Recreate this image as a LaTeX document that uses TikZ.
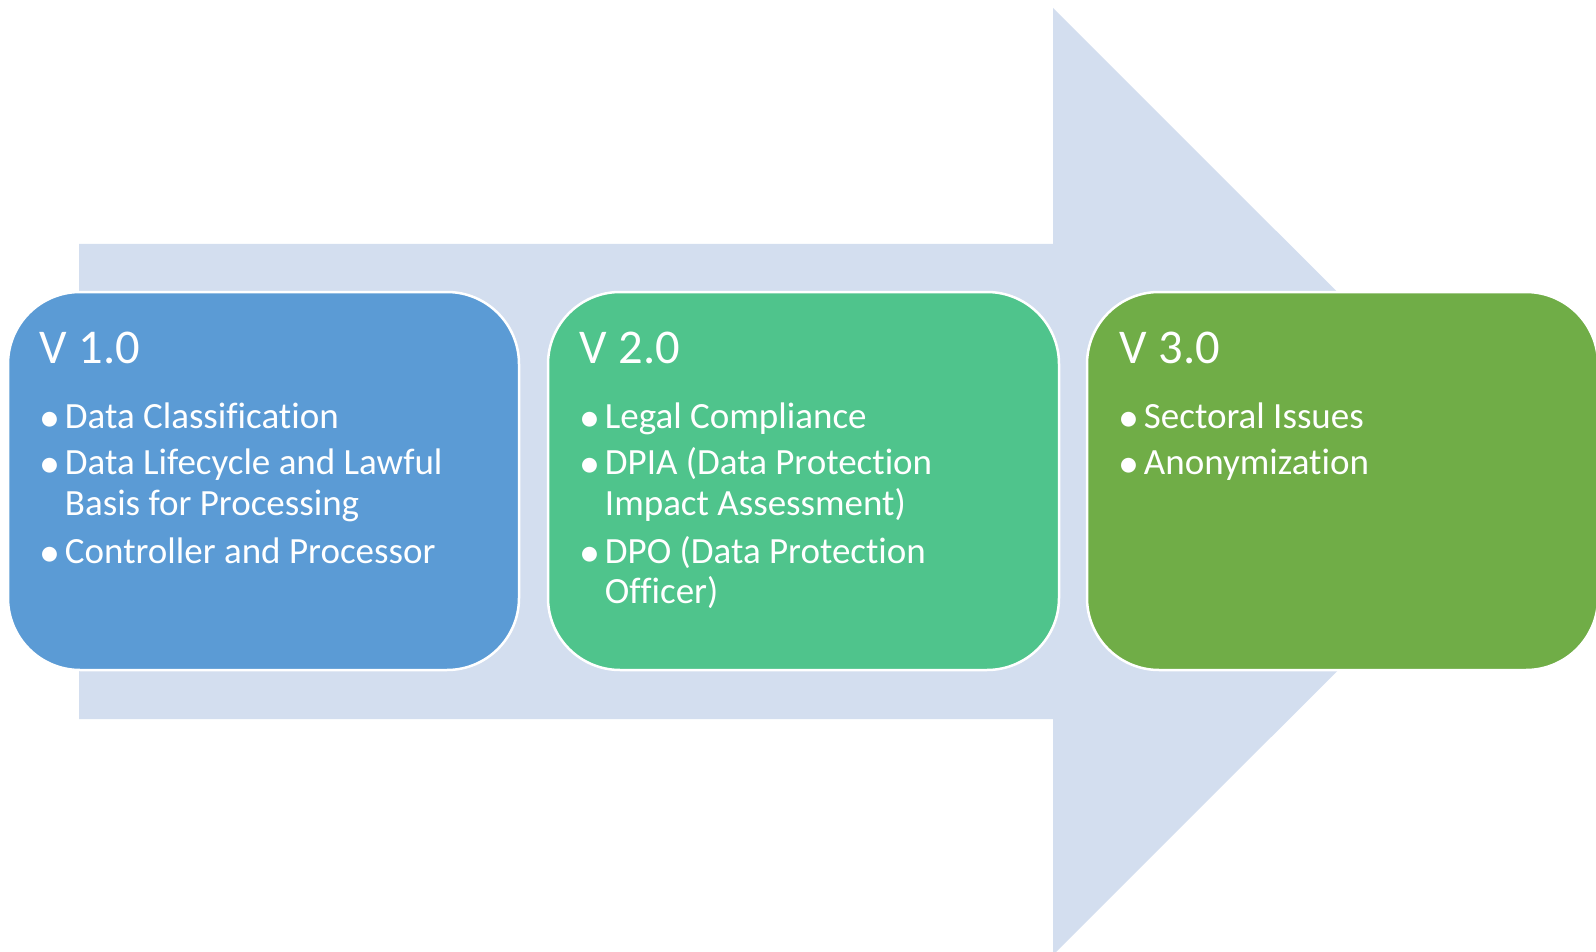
\documentclass[tikz,border=0pt]{standalone}
\usepackage{fontspec}
\setmainfont{Carlito}[RawFeature=-liga]
\usetikzlibrary{calc}
\definecolor{arrowc}{RGB}{211,222,239}
\definecolor{cone}{RGB}{91,155,213}
\definecolor{ctwo}{RGB}{79,196,140}
\definecolor{cthree}{RGB}{112,173,71}
\tikzset{
  vbox/.style={draw=white, line width=2.5pt, rounded corners=72pt, minimum width=511pt, minimum height=378pt, inner sep=0pt},
  vtitle/.style={anchor=base west, inner sep=0pt, text=white, font=\fontsize{48.5}{56}\selectfont},
  vline/.style={anchor=base west, inner sep=0pt, text=white, font=\fontsize{37}{41}\selectfont},
}
\newcommand{\bul}{\llap{{\fontsize{42}{42}\selectfont\raisebox{-3pt}{•}}\hspace{5pt}}}
\begin{document}
\begin{tikzpicture}[x=1pt,y=-1pt]
\useasboundingbox (0,0) rectangle (1596,952);
\clip (0,0) rectangle (1596,952);
% big arrow
\fill[arrowc] (79,244) -- (1053,244) -- (1053,8) -- (1527,481.5) -- (1053,955) -- (1053,719) -- (79,719) -- cycle;
% boxes
\node[vbox, fill=cone]   (b1) at (263.5,481) {};
\node[vbox, fill=ctwo]   (b2) at (803.5,481) {};
\node[vbox, fill=cthree] (b3) at (1342.5,481) {};
% box 1
\node[vtitle] (t1) at ($(b1.north west)+(33,73)$) {V 1.0};
\node[vline] (l1a) at ($(b1.north west)+(58,138)$) {\bul Data Classification};
\node[vline] (l1b) at ($(b1.north west)+(58,184)$) {\bul Data Lifecycle and Lawful};
\node[vline] (l1c) at ($(b1.north west)+(58,225)$) {Basis for Processing};
\node[vline] (l1d) at ($(b1.north west)+(58,273)$) {\bul Controller and Processor};
% box 2
\node[vtitle] (t2) at ($(b2.north west)+(33,73)$) {V 2.0};
\node[vline] (l2a) at ($(b2.north west)+(58,138)$) {\bul Legal Compliance};
\node[vline] (l2b) at ($(b2.north west)+(58,184)$) {\bul DPIA (Data Protection};
\node[vline] (l2c) at ($(b2.north west)+(58,225)$) {Impact Assessment)};
\node[vline] (l2d) at ($(b2.north west)+(58,273)$) {\bul DPO (Data Protection};
\node[vline] (l2e) at ($(b2.north west)+(58,313)$) {Officer)};
% box 3
\node[vtitle] (t3) at ($(b3.north west)+(34,73)$) {V 3.0};
\node[vline] (l3a) at ($(b3.north west)+(58,138)$) {\bul Sectoral Issues};
\node[vline] (l3b) at ($(b3.north west)+(58,184)$) {\bul Anonymization};
\end{tikzpicture}
\end{document}
